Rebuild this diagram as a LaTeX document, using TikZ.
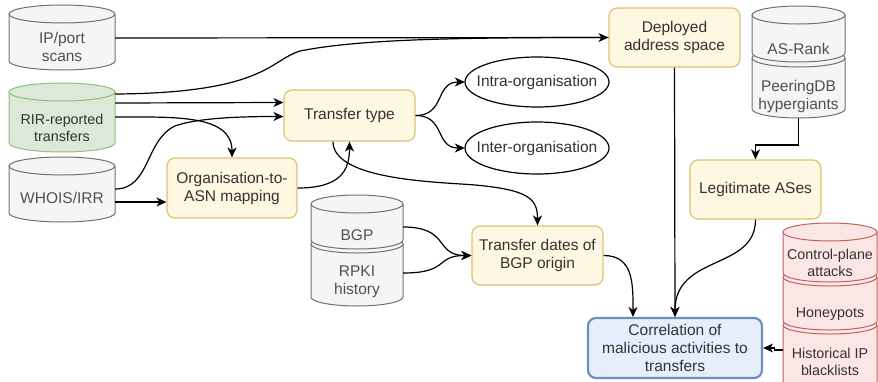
\documentclass[tikz,border=0pt]{standalone}
\usepackage{fontspec}
\setmainfont{Liberation Sans}
\usetikzlibrary{arrows.meta,shapes.geometric,calc}
\definecolor{txt}{HTML}{333333}
\definecolor{greytxt}{HTML}{505050}
\definecolor{ylwfill}{HTML}{FEF7E1}
\definecolor{ylwline}{HTML}{DEC274}
\definecolor{greyfill}{HTML}{F5F5F5}
\definecolor{greyline}{HTML}{707070}
\definecolor{grnfill}{HTML}{DCE9D8}
\definecolor{grnline}{HTML}{8CC17A}
\definecolor{bluefill}{HTML}{E7EEFB}
\definecolor{blueline}{HTML}{6C8EBF}
\definecolor{redfill}{HTML}{FCE6E5}
\definecolor{redline}{HTML}{C0625F}
\newcommand\dbseg[5]{%
  \pgfmathsetmacro\dbrx{(#2-#1)/2}%
  \filldraw[#5] (#1,#3+9) -- (#1,#4-9)
    arc[start angle=180,end angle=360,x radius=\dbrx pt,y radius=9pt]
    -- (#2,#3+9)
    arc[start angle=0,end angle=180,x radius=\dbrx pt,y radius=9pt] -- cycle;
  \draw[#5] (#1,#3+9) arc[start angle=180,end angle=360,x radius=\dbrx pt,y radius=9pt];
}
\begin{document}
\begin{tikzpicture}[x=1pt,y=-1pt,
  every node/.style={font=\fontsize{15.5}{18}\selectfont, text=txt, align=center},
  smalltext/.style={font=\fontsize{14.3}{17.5}\selectfont},
  box/.style={draw=ylwline, fill=ylwfill, rounded corners=8pt, line width=1.2pt, inner sep=0pt},
  bluebox/.style={draw=blueline, fill=bluefill, rounded corners=8pt, line width=2.2pt, inner sep=0pt},
  ovalline/.style={draw=black, fill=white, line width=1.2pt},
  ovaltext/.style={inner sep=0pt, minimum width=144pt},
  cyltext/.style={inner sep=0pt},
  greycyl/.style={fill=greyfill, draw=greyline, line width=1pt},
  greencyl/.style={fill=grnfill, draw=grnline, line width=1pt},
  redcyl/.style={fill=redfill, draw=redline, line width=1pt},
  arr/.style={-{Stealth[length=10pt,width=9pt,inset=3pt]}, line width=1.2pt, black},
  plain/.style={line width=1.2pt, black}]
\useasboundingbox (0,0) rectangle (878,381);

% cylinders
\dbseg{9}{115}{5}{70}{greycyl}
\dbseg{9}{115}{83}{152}{greencyl}
\dbseg{9}{115}{157}{222}{greycyl}
\dbseg{752}{845}{49}{118}{greycyl}
\dbseg{752}{845}{6}{62}{greycyl}
\dbseg{311}{403}{235}{306}{greycyl}
\dbseg{311}{403}{195}{249}{greycyl}
\dbseg{783}{877}{316}{392}{redcyl}
\dbseg{783}{877}{268}{330}{redcyl}
\dbseg{783}{877}{223}{282}{redcyl}

\node[cyltext, text=greytxt, minimum width=106pt] (ip) at (62,47) {IP/port\\scans};
\node[cyltext, smalltext, minimum width=106pt] (rir) at (62,128) {RIR-reported\\transfers};
\node[cyltext, text=greytxt, minimum width=106pt] (whois) at (62,198) {WHOIS/IRR};
\node[cyltext, text=greytxt, minimum width=93pt] (asrank) at (798.5,49) {AS-Rank};
\node[cyltext, text=greytxt, minimum width=93pt] (pdb) at (798.5,96) {PeeringDB\\hypergiants};
\node[cyltext, text=greytxt, minimum width=92pt] (bgp) at (357,235) {BGP};
\node[cyltext, text=greytxt, minimum width=92pt] (rpki) at (357,282) {RPKI\\history};
\node[cyltext, smalltext, minimum width=94pt] (cpa) at (830,263) {Control-plane\\attacks};
\node[cyltext, smalltext, minimum width=94pt] (hp) at (830,314) {Honeypots};
\node[cyltext, smalltext, minimum width=94pt] (hib) at (830,362) {Historical IP\\blacklists};

% boxes
\node[box, minimum width=131pt, minimum height=59pt] (dep) at (674.5,37.5) {Deployed\\address space};
\node[box, minimum width=131pt, minimum height=51pt] (tt) at (349.5,115.5) {Transfer type};
\node[box, minimum width=130pt, minimum height=60pt] (org) at (232,188) {Organisation-to-\\ASN mapping};
\node[box, minimum width=131pt, minimum height=59pt] (leg) at (755.5,189.5) {Legitimate ASes};
\node[box, minimum width=131pt, minimum height=59pt] (td) at (537.5,255.5) {Transfer dates of\\BGP origin};
\node[bluebox, minimum width=174pt, minimum height=60pt] (corr) at (675,348) {Correlation of\\malicious activities to\\transfers};

% ellipses
\path[ovalline] (537,82) ellipse [x radius=72pt, y radius=25pt];
\path[ovalline] (537,148) ellipse [x radius=72pt, y radius=26pt];
\node[ovaltext] (intra) at (537,82) {Intra-organisation};
\node[ovaltext] (inter) at (537,148) {Inter-organisation};

\coordinate (rirmid) at (300,51);
\coordinate (whoismid) at (175,126);
\coordinate (ttmid) at (475,185);

% connectors
\draw[arr] ([yshift=9pt]ip.east) -- (dep.west);
\draw[plain] ([yshift=34pt]rir.east) .. controls +(150,-1) and +(-30,9) .. (rirmid)
  .. controls +(60,-12) and +(-150,0) .. (dep.west);
\draw[arr] ([yshift=25pt]rir.east) -- ([yshift=13pt]tt.west);
\draw[arr] ([yshift=11pt]rir.east) .. controls +(60,0) and +(0,-43) .. (org.north);
\draw[arr] ([yshift=9pt]whois.east) .. controls +(35,0) and +(-30,14) .. (whoismid)
  .. controls +(25,-9) and +(-34,0) .. ([yshift=-1pt]tt.west);
\draw[arr] ([yshift=-4pt]whois.east) -- ([yshift=-14pt]org.west);
\draw[arr] (org.east) .. controls +(43,0) and +(0,29) .. (tt.south);
\draw[arr] (tt.east) .. controls +(30,0) and +(-30,0) .. (intra.west);
\draw[arr] (tt.east) .. controls +(30,0) and +(-30,0) .. (inter.west);
\draw[arr] ([xshift=-16.5pt]tt.south) .. controls +(0,39) and +(-35,-3) .. (ttmid)
  .. controls +(55,5) and +(0,-26) .. (td.north);
\draw[arr] ([yshift=8pt]bgp.east) .. controls +(47,0) and +(-37,0) .. (td.west);
\draw[arr] ([yshift=9pt]rpki.east) .. controls +(47,0) and +(-37,0) .. (td.west);
\draw[arr] (td.east) .. controls +(30,0) and +(0,-33) .. ([xshift=-42pt]corr.north);
\draw[arr] (dep.south) -- (corr.north);
\draw[arr] (leg.south) .. controls +(0,51) and +(0,-63) .. (corr.north);
\draw[arr] ([yshift=-22pt]pdb.center) -- ++(0,27) -| (leg.north);
\draw[arr] ([yshift=12pt]hib.west) -- ++(-8,0) |- (corr.east);
\end{tikzpicture}
\end{document}
